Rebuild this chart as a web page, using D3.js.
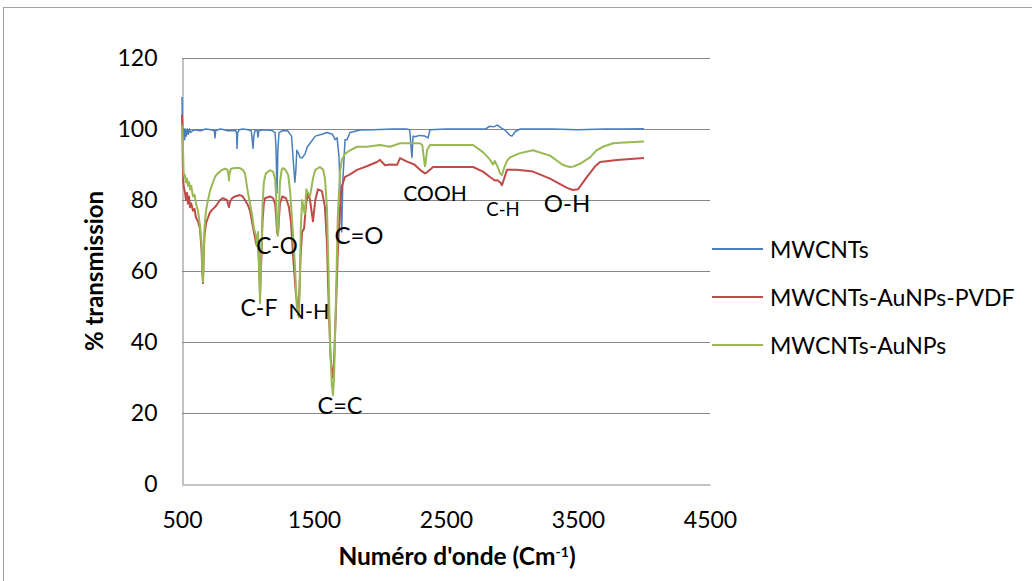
<!DOCTYPE html>
<html>
<head>
<meta charset="utf-8">
<script src="https://cdn.jsdelivr.net/npm/d3@7"></script>
<style>
  body { margin: 0; background: #fff; }
  svg { font-family: Lato, "Open Sans", sans-serif; }
</style>
</head>
<body>
<div id="graph"></div>
<script>
// wavenumber (cm-1), % transmission
const mwcnts = [
  [500,109],[503,100],[508,98],[515,100],[520,97],[525,100],[532,98],[540,100],[548,98.5],[556,100],
  [565,99],[580,99.5],[600,99.8],[640,99.5],[680,100],[720,99.8],[745,99.5],[750,97.5],[756,99.6],
  [790,100],[820,99.8],[845,99.5],[905,99.6],[913,99],[917,94.5],[922,99],[935,99.8],[960,100],
  [1000,99.8],[1025,99.5],[1032,97],[1038,94.5],[1044,98],[1055,99.8],[1070,99.5],[1076,97.7],
  [1082,99.5],[1120,99.8],[1180,99.6],[1205,99],[1212,95],[1220,82],[1226,94],[1235,99],[1260,99.5],
  [1300,99.5],[1330,98],[1345,90],[1355,85],[1362,88],[1370,94],[1385,93],[1394,92],[1410,91.8],
  [1432,93],[1450,95],[1470,96],[1510,98],[1560,98.5],[1600,99],[1640,98.5],[1660,97],[1675,97.5],
  [1690,92],[1700,80],[1710,71],[1718,85],[1735,97],[1750,97],[1773,99],[1850,99.7],[1950,99.8],
  [2100,100],[2200,100],[2225,99.8],[2235,95],[2242,92],[2250,98],[2265,97.8],[2300,98.2],[2340,98],
  [2364,97.5],[2379,99.8],[2500,100],[2700,100],[2800,100],[2833,100.8],[2860,100.6],[2890,101.1],
  [2915,100.4],[2950,99.6],[2985,98.2],[3000,98],[3025,99.3],[3061,100],[3300,100],[3500,99.8],
  [3700,100],[3850,100],[4000,100.1]
];
const pvdf = [
  [500,104],[503,100],[506,90],[510,85],[515,83.5],[523,82],[530,80],[538,82],[545,79],[553,81],
  [561,78],[570,79],[583,77],[595,77.5],[606,75],[621,74],[636,72],[648,66],[655,59],[659,56.6],
  [663,62],[670,70],[682,73.5],[697,75],[712,76.5],[735,77.5],[750,78],[770,79],[788,80],[810,80.5],
  [840,80],[856,78],[864,79.5],[880,80.5],[902,81],[939,81.4],[960,81],[977,80],[1000,78.5],
  [1015,77],[1030,74],[1045,71],[1060,68],[1068,67],[1076,69],[1085,60],[1091,54],[1100,63],
  [1110,74],[1120,79],[1129,80.5],[1167,81],[1190,80.5],[1205,79],[1212,76],[1220,71],[1227,70],
  [1235,75],[1242,79],[1260,81],[1288,80.5],[1310,78],[1325,74],[1342,64],[1362,54],[1382,47.6],
  [1390,55],[1398,64],[1410,71],[1425,72],[1440,79],[1455,82],[1470,80],[1492,74],
  [1510,80],[1530,83],[1560,82.5],[1583,78],[1598,68],[1612,50],[1625,36],[1640,30],[1650,33],
  [1665,48],[1680,65],[1697,78],[1712,84],[1735,86.5],[1773,87.2],[1826,88.5],[1900,89.5],
  [1977,90.7],[2000,91.3],[2038,89.8],[2076,90],[2129,89.9],[2152,91.8],[2205,90.8],[2260,90],
  [2303,88.5],[2341,87.5],[2356,87.8],[2402,89.3],[2550,89.3],[2705,89.3],[2780,88],[2833,86.5],
  [2870,85.5],[2886,85.6],[2910,85],[2924,84.2],[2940,86],[2962,88.5],[3038,88.5],[3159,88],
  [3288,86],[3417,83.4],[3462,82.8],[3500,83],[3568,86.5],[3630,89.5],[3667,90.7],[3795,91.3],
  [4000,91.8]
];
const aunps = [
  [500,101],[504,99],[508,94],[512,88],[518,86.5],[523,87],[530,85],[538,86],[545,84],[553,85],
  [561,83],[570,84],[583,81],[595,81.5],[606,79],[621,77],[636,73],[648,68],[655,60],[659,57],
  [663,62],[670,72],[682,77],[697,80],[712,82.5],[735,85],[750,86.5],[770,87.5],[788,88],[803,88.5],
  [826,88.8],[845,88.5],[852,87],[856,85.5],[860,87.5],[871,88.8],[900,89],[939,89],[960,88.5],
  [977,87.5],[1000,82],[1015,79],[1030,76],[1045,72],[1060,70],[1068,67],[1076,71],[1085,60],
  [1091,51],[1100,62],[1110,78],[1120,85],[1135,87.5],[1167,88.4],[1190,88],[1205,86],[1212,82],
  [1220,72],[1227,70],[1235,78],[1242,85],[1255,88.5],[1265,89],[1285,88.5],[1305,87],[1320,82],
  [1338,72],[1355,62],[1370,50],[1385,47],[1392,55],[1400,72],[1410,80],[1420,78],[1430,76],
  [1442,83],[1455,82],[1470,81],[1492,86],[1510,88.5],[1545,89.3],[1570,88.5],[1583,86],[1598,78],
  [1610,60],[1621,40],[1635,28],[1644,25],[1652,30],[1665,50],[1680,75],[1697,88],[1712,91.5],
  [1735,93],[1773,94],[1826,95],[1900,95],[2000,95.5],[2076,95],[2152,96],[2200,96],[2303,96],
  [2320,95.5],[2335,91],[2341,89.5],[2348,91],[2356,94],[2379,95.5],[2450,95.5],[2600,95.5],
  [2705,95.5],[2780,93.5],[2830,91.5],[2856,90],[2870,91],[2895,89],[2909,87.5],[2924,87],
  [2940,89],[2962,91],[2985,92],[3061,93.2],[3159,94],[3288,92.5],[3380,90],[3417,89.5],
  [3439,89.3],[3462,89.4],[3515,90.2],[3591,92],[3640,94],[3689,95],[3765,96],[3850,96.2],
  [4000,96.5]
];

const seriesNames = ["MWCNTs", "MWCNTs-AuNPs-PVDF", "MWCNTs-AuNPs"];
const seriesColors = ["#4A7EBB", "#BE4B48", "#98B954"];
const xTicks = [500, 1500, 2500, 3500, 4500];
const yTicks = [0, 20, 40, 60, 80, 100, 120];

// band labels: [text, wavenumber, %T, font size]
const bands = [
  ["C-O", 1220, 67.3, 22.5], ["C=O", 1841, 70.4, 24], ["C-F", 1083, 49.9, 23],
  ["N-H", 1462, 48.7, 21.5], ["C=C", 1697, 22.3, 23.5], ["COOH", 2417, 82, 21],
  ["C-H", 2932, 77.5, 18.5], ["O-H", 3417, 79.4, 24]
];

const width = 1032;
const height = 581;
const margin = { left: 182, right: 322, top: 58, bottom: 97 };
const grey = "#868686";

let svg = d3.select('#graph')
  .append('svg')
  .attr('width', width)
  .attr('height', height);

// chart area border
svg.append('rect')
  .attr('x', 3.5).attr('y', 7.5)
  .attr('width', width + 10).attr('height', height + 10)
  .attr('fill', 'none')
  .attr('stroke', '#a0a0a0');

let xScale = d3.scaleLinear()
  .domain([500, 4500])
  .range([margin.left, width - margin.right]);

let yScale = d3.scaleLinear()
  .domain([0, 120])
  .range([height - margin.bottom, margin.top]);

// grid lines
svg.append('g')
  .selectAll('line')
  .data(yTicks.filter(d => d > 0))
  .enter()
  .append('line')
  .attr('x1', xScale(500))
  .attr('x2', xScale(4500))
  .attr('y1', d => Math.round(yScale(d)) + 0.5)
  .attr('y2', d => Math.round(yScale(d)) + 0.5)
  .attr('stroke', grey)
  .attr('stroke-width', 1);

let xAxis = d3.axisBottom(xScale)
  .tickValues(xTicks)
  .tickSize(0)
  .tickPadding(27)
  .tickFormat(d3.format('d'));

let yAxis = d3.axisLeft(yScale)
  .tickValues(yTicks)
  .tickSize(0)
  .tickPadding(25);

let axis = svg.append('g').attr('class', 'axis');
axis.append('g')
  .attr('transform', `translate(0, ${Math.round(yScale(0)) + 0.5})`)
  .call(xAxis);
axis.append('g')
  .attr('transform', `translate(${margin.left + 0.5}, 0)`)
  .call(yAxis);
axis.selectAll('.domain').attr('stroke', grey);
axis.selectAll('text')
  .style('font-size', '23px')
  .style('font-family', 'Lato, sans-serif')
  .attr('fill', '#000');

// axis titles
svg.append('text')
  .attr('transform', `translate(103, ${yScale(60)}) rotate(-90)`)
  .attr('text-anchor', 'middle')
  .style('font-size', '24px')
  .style('font-weight', 'bold')
  .text('% transmission');

let xTitle = svg.append('text')
  .attr('x', 457)
  .attr('y', 565)
  .attr('text-anchor', 'middle')
  .style('font-size', '24.5px')
  .style('font-weight', 'bold');
xTitle.append('tspan').text("Numéro d'onde (Cm");
xTitle.append('tspan').attr('dy', -8).style('font-size', '14px').text('-1');
xTitle.append('tspan').attr('dy', 8).text(')');

// spectra
let line = d3.line()
  .x(d => xScale(d[0]))
  .y(d => yScale(d[1]));

[mwcnts, pvdf, aunps].forEach((data, i) => {
  svg.append('path')
    .datum(data)
    .attr('fill', 'none')
    .attr('stroke', seriesColors[i])
    .attr('stroke-width', i === 0 ? 1.5 : 2)
    .attr('stroke-linejoin', 'round')
    .attr('d', line);
});

// band labels
svg.append('g')
  .selectAll('text')
  .data(bands)
  .enter()
  .append('text')
  .attr('x', d => xScale(d[1]))
  .attr('y', d => yScale(d[2]))
  .attr('text-anchor', 'middle')
  .attr('dominant-baseline', 'central')
  .style('font-size', d => d[3] + 'px')
  .text(d => d[0]);

// legend
let legend = svg.append('g').attr('transform', 'translate(712, 249)');
seriesNames.forEach((name, i) => {
  legend.append('line')
    .attr('x1', 0).attr('x2', 51)
    .attr('y1', i * 48).attr('y2', i * 48)
    .attr('stroke', seriesColors[i])
    .attr('stroke-width', 2);
  legend.append('text')
    .attr('x', 58)
    .attr('y', i * 48)
    .attr('dominant-baseline', 'central')
    .style('font-size', '23px')
    .text(name);
});
</script>
</body>
</html>
